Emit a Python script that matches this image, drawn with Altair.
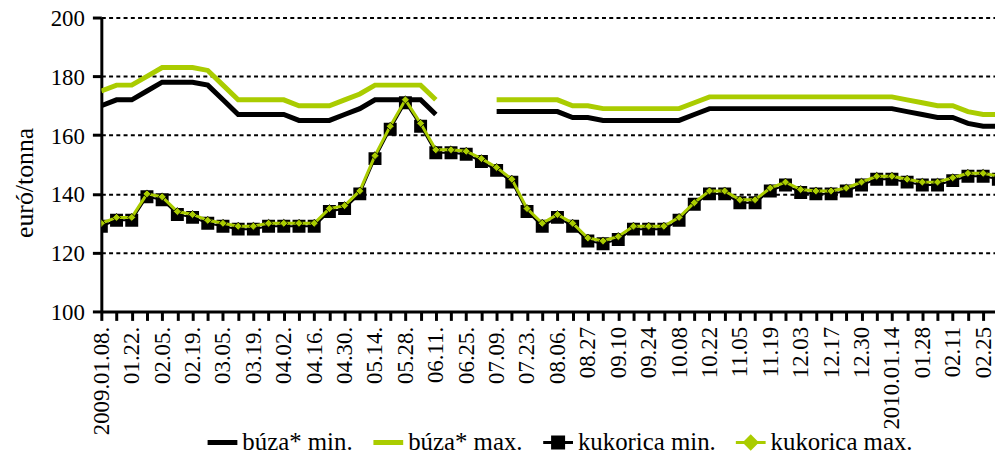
import json
import altair as alt
import pandas as pd

# ---- data -------------------------------------------------------------
dates = [
    "2009.01.08.", "01.15.", "01.22.", "01.29.", "02.05.", "02.12.", "02.19.", "02.26.",
    "03.05.", "03.12.", "03.19.", "03.26.", "04.02.", "04.09.", "04.16.", "04.23.",
    "04.30.", "05.07.", "05.14.", "05.21.", "05.28.", "06.04.", "06.11.", "06.18.",
    "06.25.", "07.02.", "07.09.", "07.16.", "07.23.", "07.30.", "08.06.", "08.13.",
    "08.27", "09.03", "09.10", "09.17", "09.24", "10.01", "10.08", "10.15",
    "10.22", "10.29", "11.05", "11.12", "11.19", "11.26", "12.03", "12.10",
    "12.17", "12.23", "12.30", "2010.01.07", "2010.01.14", "01.21", "01.28", "02.04",
    "02.11", "02.18", "02.25", "03.04",
]

N = None
buza_min = [
    170, 172, 172, 175, 178, 178, 178, 177, 172, 167, 167, 167, 167, 165, 165, 165,
    167, 169, 172, 172, 172, 172, 167, N, N, N, 168, 168, 168, 168, 168, 166,
    166, 165, 165, 165, 165, 165, 165, 167, 169, 169, 169, 169, 169, 169, 169, 169,
    169, 169, 169, 169, 169, 168, 167, 166, 166, 164, 163, 163,
]
buza_max = [
    175, 177, 177, 180, 183, 183, 183, 182, 177, 172, 172, 172, 172, 170, 170, 170,
    172, 174, 177, 177, 177, 177, 172, N, N, N, 172, 172, 172, 172, 172, 170,
    170, 169, 169, 169, 169, 169, 169, 171, 173, 173, 173, 173, 173, 173, 173, 173,
    173, 173, 173, 173, 173, 172, 171, 170, 170, 168, 167, 167,
]
kuk_min = [
    129, 131, 131, 139, 138, 133, 132, 130, 129, 128, 128, 129, 129, 129, 129, 134,
    135, 140, 152, 162, 171, 163, 154, 154, 153.5, 151, 148, 144, 134, 129, 132, 129,
    124, 123, 124.5, 128, 128, 128, 131, 136.5, 140, 140, 137, 137, 141, 143, 140.5, 140,
    140, 141, 143, 145, 145, 144, 143, 143, 144.5, 146, 146, 145,
]
kuk_max = [
    130, 132, 132, 140, 139, 134, 133, 131, 130, 129, 129, 130, 130, 130, 130, 135,
    136, 141, 153, 163, 172, 164, 155, 155, 154.5, 152, 149, 145, 135, 130, 133, 130,
    125, 124, 125.5, 129, 129, 129, 132, 137, 141, 141, 138, 138, 142, 144, 141.5, 141,
    141, 142, 144, 146, 146, 145, 144, 144, 145.5, 147, 147, 146,
]

series_names = ["búza* min.", "búza* max.", "kukorica min.", "kukorica max."]
series_values = [buza_min, buza_max, kuk_min, kuk_max]
y_ticks = [100, 120, 140, 160, 180, 200]

# ---- styling ---------------------------------------------------------
BLACK = "#000000"
GREEN = "#aacc00"
FONT = "Liberation Serif, Times New Roman, DejaVu Serif, serif"

rows = []
for name, vals in zip(series_names, series_values):
    for i, v in enumerate(vals):
        rows.append({"i": i, "s": name, "v": v})
df = pd.DataFrame(rows)

label_expr = (
    "datum.value % 2 === 0 ? " + json.dumps(dates) + "[datum.value] : ''"
)

x_enc = alt.X(
    "i:Q",
    scale=alt.Scale(domain=[0, 58.78], nice=False, zero=False),
    axis=alt.Axis(
        values=list(range(59)),
        labelExpr=label_expr,
        labelAngle=270,
        labelAlign="right",
        labelBaseline="middle",
        labelFont=FONT,
        labelFontSize=23,
        labelColor=BLACK,
        labelPadding=6,
        labelOverlap=False,
        labelFlush=False,
        tickSize=9,
        tickWidth=3,
        tickColor=BLACK,
        domainColor=BLACK,
        domainWidth=3,
        grid=False,
    ),
    title=None,
)
y_enc = alt.Y(
    "v:Q",
    scale=alt.Scale(domain=[100, 200], nice=False, zero=False),
    axis=alt.Axis(
        values=y_ticks,
        labelFont=FONT,
        labelFontSize=23,
        labelColor=BLACK,
        labelPadding=8,
        labelOffset=1,
        tickSize=9,
        tickWidth=3,
        tickColor=BLACK,
        domainColor=BLACK,
        domainWidth=3,
        grid=True,
        gridColor=BLACK,
        gridWidth=2,
        gridDash=[4, 3.3],
        gridOpacity=1,
        titleFont=FONT,
        titleFontSize=26,
        titleFontWeight="normal",
        titleColor=BLACK,
        titleAngle=270,
        titleAlign="center",
        titleBaseline="alphabetic",
        titleX=-69,
        titleY=166,
    ),
    title="euró/tonna",
)

color_scale = alt.Scale(domain=series_names, range=[BLACK, GREEN, BLACK, GREEN])
legend_paths = [
    "M-1,-0.167H1V0.167H-1Z",
    "M-1,-0.167H1V0.167H-1Z",
    "M-1,-0.1H1V0.1H-1Z M-0.47,-0.47H0.47V0.47H-0.47Z",
    "M-1,-0.1H1V0.1H-1Z M0,-0.55L0.55,0L0,0.55L-0.55,0Z",
]
shape_scale = alt.Scale(domain=series_names, range=legend_paths)

legend = alt.Legend(
    title=None,
    orient="none",
    legendX=107,
    legendY=413,
    direction="horizontal",
    labelFont=FONT,
    labelFontSize=25,
    labelColor=BLACK,
    labelOffset=5,
    labelLimit=400,
    symbolSize=900,
    symbolStrokeWidth=0,
    symbolOpacity=1,
    columnPadding=20,
    padding=0,
)

base = alt.Chart(df)

# legend carrier (draws nothing itself)
legend_layer = base.mark_point(filled=True, opacity=1).encode(
    x=x_enc,
    y=y_enc,
    color=alt.Color("s:N", scale=color_scale, legend=legend),
    shape=alt.Shape("s:N", scale=shape_scale, legend=legend),
).transform_filter("false")

bmin_line = base.mark_line(
    strokeWidth=5, color=BLACK, clip=True, invalid="break-paths-show-domains"
).encode(x=x_enc, y=y_enc).transform_filter(alt.datum.s == "búza* min.")

bmax_line = base.mark_line(
    strokeWidth=5, color=GREEN, clip=True, invalid="break-paths-show-domains"
).encode(x=x_enc, y=y_enc).transform_filter(alt.datum.s == "búza* max.")

kmin_line = base.mark_line(strokeWidth=2, color=BLACK, clip=True).encode(
    x=x_enc, y=y_enc
).transform_filter(alt.datum.s == "kukorica min.")

kmin_pts = base.mark_point(
    shape="square", filled=True, size=170, color=BLACK, opacity=1, clip=True
).encode(x=x_enc, y=y_enc).transform_filter(alt.datum.s == "kukorica min.")

kmax_line = base.mark_line(strokeWidth=3, color=GREEN, clip=True).encode(
    x=x_enc, y=y_enc
).transform_filter(alt.datum.s == "kukorica max.")

kmax_pts = base.mark_point(
    shape="diamond", filled=True, size=64, fill=GREEN, stroke=BLACK,
    strokeWidth=0.8, opacity=1, clip=True
).encode(x=x_enc, y=y_enc).transform_filter(alt.datum.s == "kukorica max.")

chart = alt.layer(
    legend_layer, bmin_line, bmax_line, kmin_line, kmin_pts, kmax_line, kmax_pts
).properties(
    width=900,
    height=296,
    autosize=alt.AutoSizeParams(type="none"),
    padding={"left": 94, "top": 8, "right": 0, "bottom": 146},
    background="white",
).configure_view(strokeWidth=0)

chart.save("out.html", embed_options={"renderer": "svg", "actions": False})
